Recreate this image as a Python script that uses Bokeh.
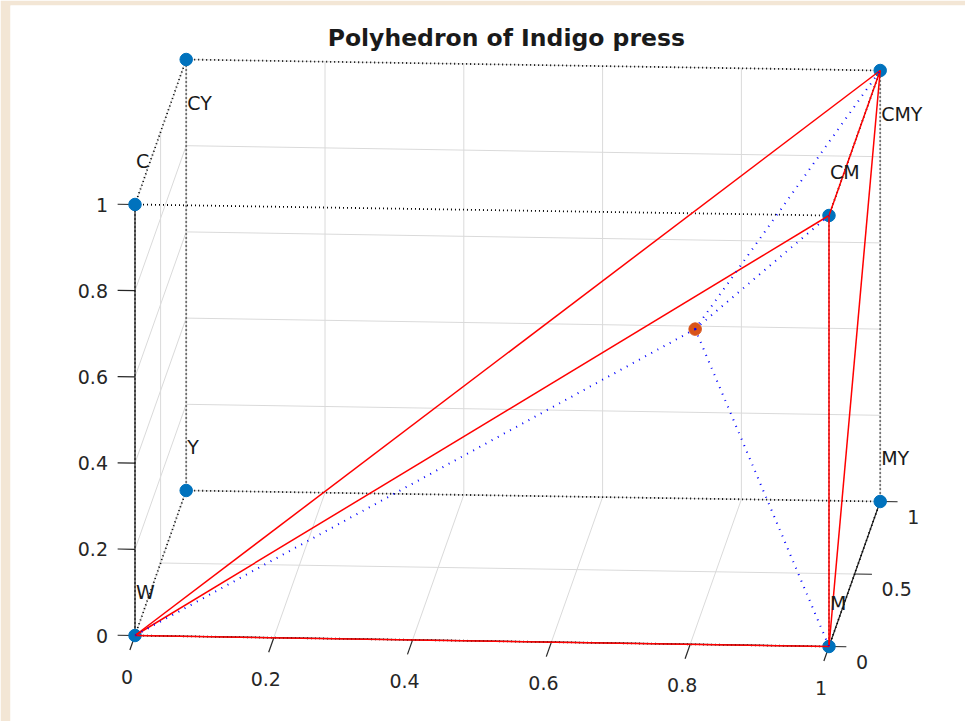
import numpy as np
from bokeh.plotting import figure
from bokeh.models import Range1d, ColumnDataSource
from bokeh.core.properties import value
from bokeh.embed import file_html
from bokeh.resources import INLINE

# ---------------- data (x = M, y = Y, z = C) ----------------
vertex_names = ["W", "C", "M", "Y", "CM", "CY", "MY", "CMY"]
vertex_x = [0, 0, 1, 0, 1, 0, 1, 1]
vertex_y = [0, 0, 0, 1, 0, 1, 1, 1]
vertex_z = [0, 1, 0, 0, 1, 1, 0, 1]
label_dz = [0.1, 0.1, 0.1, 0.1, 0.1, -0.1, 0.1, -0.1]

# test point inside the polyhedron
point_x = [0.785]
point_y = [0.30]
point_z = [0.63]

# polyhedron (Indigo press gamut) edges
poly_edges = [("W", "M"), ("W", "CM"), ("W", "CMY"), ("M", "CM"), ("M", "CMY"), ("CM", "CMY")]
# ideal CMY cube edges
cube_edges = [("W", "M"), ("W", "Y"), ("W", "C"), ("M", "CM"), ("M", "MY"), ("Y", "MY"),
              ("Y", "CY"), ("C", "CM"), ("C", "CY"), ("CY", "CMY"), ("CM", "CMY"), ("MY", "CMY")]
# test point to polyhedron vertices
point_links = ["W", "M", "CM", "CMY"]

x_ticks = [0, 0.2, 0.4, 0.6, 0.8, 1]
x_tick_labels = ["0", "0.2", "0.4", "0.6", "0.8", "1"]
y_ticks = [0, 0.5, 1]
y_tick_labels = ["0", "0.5", "1"]
z_ticks = [0, 0.2, 0.4, 0.6, 0.8, 1]
z_tick_labels = ["0", "0.2", "0.4", "0.6", "0.8", "1"]

title_text = "Polyhedron of Indigo press"

# ---------------- view (orthographic projection) ----------------
ORIGIN = (134.5, 635.0)
EX = (694.0, 11.0)
EY = (51.2, -145.0)
EZ = (0.0, -431.0)


def proj(x, y, z):
    x = np.asarray(x, dtype=float)
    y = np.asarray(y, dtype=float)
    z = np.asarray(z, dtype=float)
    sx = ORIGIN[0] + x * EX[0] + y * EY[0] + z * EZ[0]
    sy = ORIGIN[1] + x * EX[1] + y * EY[1] + z * EZ[1]
    return sx, sy


def seg_list(pairs3d):
    xs, ys = [], []
    for a, b in pairs3d:
        ax, ay = proj(*a)
        bx, by = proj(*b)
        xs.append([float(ax), float(bx)])
        ys.append([float(ay), float(by)])
    return xs, ys


idx = {n: i for i, n in enumerate(vertex_names)}


def vert(n):
    i = idx[n]
    return (vertex_x[i], vertex_y[i], vertex_z[i])


BEIGE = "#f3e6d5"
AXIS_C = "#262626"
GRID_C = "#dadada"
FONT = "DejaVu Sans"

p = figure(width=965, height=721, output_backend="svg", toolbar_location=None,
           x_range=Range1d(10, 965), y_range=Range1d(721, 5),
           x_axis_location=None, y_axis_location=None,
           min_border_left=10, min_border_top=5, min_border_right=0, min_border_bottom=0,
           border_fill_color=BEIGE, background_fill_color="white", outline_line_color=None)
p.grid.visible = False

# ---------------- grid lines on back planes ----------------
grid_pairs = []
for t in x_ticks:
    grid_pairs.append(((t, 0, 0), (t, 1, 0)))
    grid_pairs.append(((t, 1, 0), (t, 1, 1)))
for t in y_ticks:
    grid_pairs.append(((0, t, 0), (1, t, 0)))
    grid_pairs.append(((0, t, 0), (0, t, 1)))
for t in z_ticks:
    grid_pairs.append(((0, 1, t), (1, 1, t)))
    grid_pairs.append(((0, 0, t), (0, 1, t)))
gx, gy = seg_list(grid_pairs)
p.multi_line(gx, gy, line_color=GRID_C, line_width=1)

# ---------------- axes ----------------
ax_pairs = [((0, 0, 0), (1, 0, 0)), ((1, 0, 0), (1, 1, 0)), ((0, 0, 0), (0, 0, 1))]
tick_pairs = []
for t in x_ticks:
    tick_pairs.append(((t, 0, 0), (t, -0.1, 0)))
for t in y_ticks:
    tick_pairs.append(((1, t, 0), (1.025, t, 0)))
for t in z_ticks:
    tick_pairs.append(((0, 0, t), (-0.025, 0, t)))
axx, axy = seg_list(ax_pairs + tick_pairs)
p.multi_line(axx, axy, line_color=AXIS_C, line_width=1.2)

# ---------------- cube (dotted black) ----------------
cx, cy = seg_list([(vert(a), vert(b)) for a, b in cube_edges])
p.multi_line(cx, cy, line_color="black", line_width=1.8, line_dash="1 3")

# ---------------- markers ----------------
vx, vy = proj(vertex_x, vertex_y, vertex_z)
p.scatter(vx, vy, marker="circle", size=12.5, fill_color="#0072BD", line_color="#0072BD")
px_, py_ = proj(point_x, point_y, point_z)
p.scatter(px_, py_, marker="circle", size=12.5, fill_color="#D95319", line_color="#D95319")

# ---------------- polyhedron edges (red) ----------------
rx, ry = seg_list([(vert(a), vert(b)) for a, b in poly_edges])
p.multi_line(rx, ry, line_color="#ff0000", line_width=1.5)

# ---------------- links from test point (blue dotted) ----------------
P3 = (point_x[0], point_y[0], point_z[0])
bx, by = seg_list([(P3, vert(n)) for n in point_links])
p.multi_line(bx, by, line_color="#0000ff", line_width=2, line_dash="1 6")

# ---------------- vertex labels ----------------
lx, ly = proj(vertex_x, vertex_y, np.asarray(vertex_z) + np.asarray(label_dz))
p.text(x=lx, y=ly, text=vertex_names, x_offset=1, text_align="left", text_baseline="middle",
       text_font=value(FONT), text_font_size="19px", text_color="#1a1a1a")

# ---------------- tick labels ----------------
tx, ty = proj(x_ticks, [0] * len(x_ticks), [0] * len(x_ticks))
p.text(x=tx, y=ty, text=x_tick_labels, x_offset=-8, y_offset=41, text_align="center",
       text_baseline="middle", text_font=value(FONT), text_font_size="19px", text_color=AXIS_C)
tx, ty = proj([1] * len(y_ticks), y_ticks, [0] * len(y_ticks))
p.text(x=tx, y=ty, text=y_tick_labels, x_offset=27, y_offset=15, text_align="left",
       text_baseline="middle", text_font=value(FONT), text_font_size="19px", text_color=AXIS_C)
tx, ty = proj([0] * len(z_ticks), [0] * len(z_ticks), z_ticks)
p.text(x=tx, y=ty, text=z_tick_labels, x_offset=-27, text_align="right",
       text_baseline="middle", text_font=value(FONT), text_font_size="19px", text_color=AXIS_C)

# ---------------- title ----------------
tpx, tpy = proj([0.535], [0], [1.40])
p.text(x=tpx, y=tpy, text=[title_text], text_align="center", text_baseline="middle",
       text_font=value(FONT), text_font_style="bold", text_font_size="23.5px", text_color="#1a1a1a")

open("out.html", "w").write(file_html(p, INLINE))
